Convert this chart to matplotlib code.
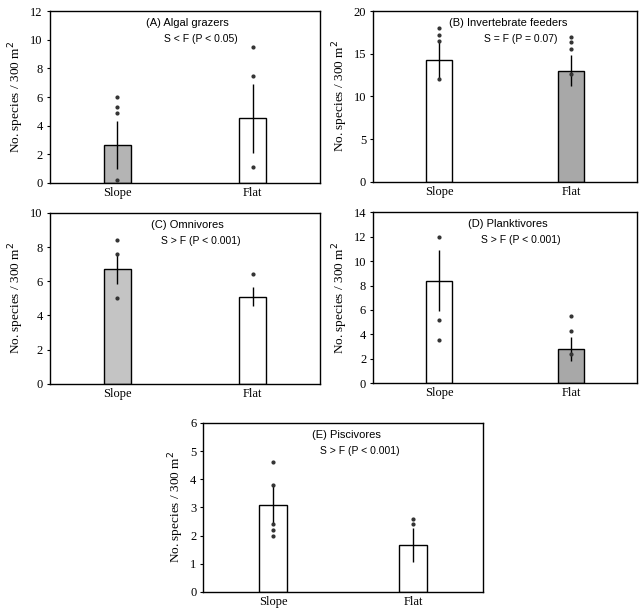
import matplotlib
matplotlib.use("Agg")
import matplotlib.pyplot as plt

categories = ["Slope", "Flat"]

titles = ["(A) Algal grazers", "(B) Invertebrate feeders", "(C) Omnivores",
          "(D) Planktivores", "(E) Piscivores"]
stats = ["S < F (P < 0.05)", "S = F (P = 0.07)", "S > F (P < 0.001)",
         "S > F (P < 0.001)", "S > F (P < 0.001)"]

means_A = [2.65, 4.5]
err_A = [1.7, 2.4]
pts_A_slope = [6.0, 5.3, 4.9, 0.2]
pts_A_flat = [9.5, 7.5, 1.1]

means_B = [14.3, 13.0]
err_B = [2.2, 1.8]
pts_B_slope = [18.0, 17.2, 16.5, 12.0]
pts_B_flat = [17.0, 16.4, 15.6, 12.6]

means_C = [6.7, 5.1]
err_C = [0.85, 0.55]
pts_C_slope = [8.4, 7.6, 5.0]
pts_C_flat = [6.4]

means_D = [8.4, 2.8]
err_D = [2.5, 0.95]
pts_D_slope = [12.0, 5.2, 3.5]
pts_D_flat = [5.5, 4.3, 2.4]

means_E = [3.1, 1.65]
err_E = [0.7, 0.6]
pts_E_slope = [4.6, 3.8, 2.4, 2.2, 2.0]
pts_E_flat = [2.6, 2.4]

ymax = [12, 20, 10, 14, 6]
ystep = [2, 5, 2, 2, 1]
fills = [["#b4b4b4", "white"], ["white", "#a8a8a8"], ["#c4c4c4", "white"],
         ["white", "#a8a8a8"], ["white", "white"]]

panels = [
    (means_A, err_A, pts_A_slope, pts_A_flat),
    (means_B, err_B, pts_B_slope, pts_B_flat),
    (means_C, err_C, pts_C_slope, pts_C_flat),
    (means_D, err_D, pts_D_slope, pts_D_flat),
    (means_E, err_E, pts_E_slope, pts_E_flat),
]

positions = [
    [0.078, 0.701, 0.423, 0.281],
    [0.584, 0.703, 0.413, 0.279],
    [0.078, 0.373, 0.423, 0.279],
    [0.584, 0.374, 0.413, 0.279],
    [0.318, 0.033, 0.438, 0.276],
]

serif = "Liberation Serif"
sans = "Liberation Sans"

fig = plt.figure(figsize=(6.39, 6.12), dpi=100)
for i, (means, errs, ps, pf) in enumerate(panels):
    ax = fig.add_axes(positions[i])
    x = list(range(len(categories)))
    ax.bar(x, means, width=0.2, color=fills[i], edgecolor="black", linewidth=1.0, zorder=2)
    ax.errorbar(x, means, yerr=errs, fmt="none", ecolor="black", elinewidth=1.0,
                capsize=0, zorder=3)
    ax.plot([0] * len(ps), ps, "o", color="#333333", markersize=2.0, zorder=4)
    ax.plot([1] * len(pf), pf, "o", color="#333333", markersize=2.0, zorder=4)
    ax.set_xlim(-0.5, 1.5)
    ax.set_ylim(0, ymax[i])
    ax.set_yticks(list(range(0, ymax[i] + 1, ystep[i])))
    ax.set_xticks(x)
    ax.set_xticklabels(categories, fontfamily=serif, fontsize=9)
    for lab in ax.get_yticklabels():
        lab.set_fontfamily(serif)
        lab.set_fontsize(9)
    ax.tick_params(axis="x", length=0, pad=3)
    ax.tick_params(axis="y", length=2, direction="out", pad=3)
    ax.set_ylabel("No. species / 300 m$^2$", fontfamily=serif, fontsize=9.5, labelpad=3)
    ax.text(0.51, 0.96, titles[i], transform=ax.transAxes, ha="center", va="top",
            fontfamily=sans, fontsize=8)
    ax.text(0.56, 0.865, stats[i], transform=ax.transAxes, ha="center", va="top",
            fontfamily=sans, fontsize=7.5)
    for s in ax.spines.values():
        s.set_linewidth(1.0)

fig.savefig("out.png", dpi=100)
